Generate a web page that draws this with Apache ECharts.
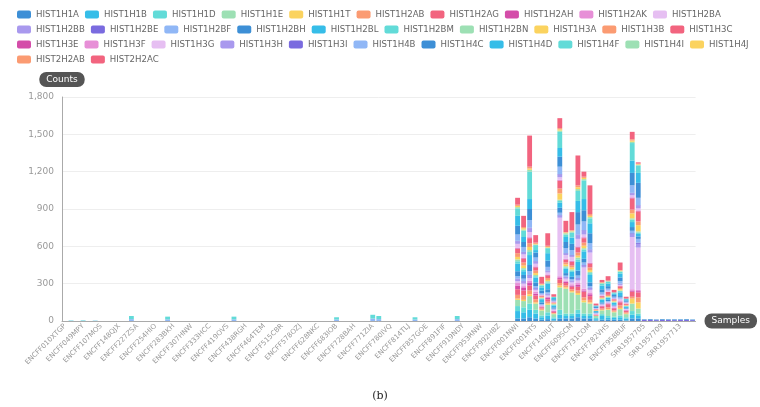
<!DOCTYPE html>
<html>
<head>
<meta charset="utf-8">
<title>Histone counts per sample</title>
<script src="https://cdn.jsdelivr.net/npm/echarts@6/dist/echarts.min.js"></script>
<style>
	html, body { margin: 0; padding: 0; background: #fff; }
	#main { width: 760px; height: 407px; }
</style>
</head>
<body>
<div id="main"></div>
<script>
	// x轴上能看到的样本名（每3个样本显示一个）
	var tickLabels = ['ENCFF010XTGP', 'ENCFF049MPY', 'ENCFF107MOS', 'ENCFF148QJX', 'ENCFF227ZSA', 'ENCFF254HIO',
		'ENCFF283BKH', 'ENCFF307HNW', 'ENCFF333HCC', 'ENCFF419OVS', 'ENCFF438RGH', 'ENCFF464TEM', 'ENCFF515CBR',
		'ENCFF578OZJ', 'ENCFF628NKC', 'ENCFF683IOB', 'ENCFF728BAH', 'ENCFF771ZIA', 'ENCFF780IVQ', 'ENCFF814TLJ',
		'ENCFF857GOE', 'ENCFF891FIF', 'ENCFF919NDY', 'ENCFF953RNW', 'ENCFF992HBZ', 'ENCFF001NWI', 'ENCFF001RTS',
		'ENCFF140IUT', 'ENCFF609SCM', 'ENCFF731COM', 'ENCFF782VHS', 'ENCFF958BUF', 'SRR1957705', 'SRR1957709',
		'SRR1957713'];

	// 组蛋白基因（图例顺序 = 堆叠顺序）
	var seriesNames = ['HIST1H1A', 'HIST1H1B', 'HIST1H1D', 'HIST1H1E', 'HIST1H1T', 'HIST1H2AB', 'HIST1H2AG',
		'HIST1H2AH', 'HIST1H2AK', 'HIST1H2BA', 'HIST1H2BB', 'HIST1H2BE', 'HIST1H2BF', 'HIST1H2BH', 'HIST1H2BL',
		'HIST1H2BM', 'HIST1H2BN', 'HIST1H3A', 'HIST1H3B', 'HIST1H3C', 'HIST1H3E', 'HIST1H3F', 'HIST1H3G',
		'HIST1H3H', 'HIST1H3I', 'HIST1H4B', 'HIST1H4C', 'HIST1H4D', 'HIST1H4F', 'HIST1H4I', 'HIST1H4J',
		'HIST2H2AB', 'HIST2H2AC'];

	// 第二组 ENCODE 样本（第75个样本开始，共21个），每行33个基因的计数
	var groupBStart = 75;
	var groupBCounts = [
		[20, 60, 40, 50, 10, 30, 45, 30, 20, 15, 15, 5, 20, 40, 60, 20, 15, 20, 30, 35, 5, 5, 30, 20, 5, 50, 70, 80, 60, 10, 10, 10, 55],
		[20, 50, 40, 50, 10, 35, 40, 20, 15, 20, 15, 5, 20, 30, 30, 15, 10, 20, 25, 30, 5, 5, 25, 15, 5, 40, 40, 40, 50, 10, 10, 10, 90],
		[30, 60, 50, 60, 15, 30, 40, 20, 20, 20, 20, 5, 30, 50, 80, 25, 15, 25, 30, 40, 5, 5, 40, 30, 5, 60, 90, 80, 220, 15, 10, 15, 250],
		[20, 40, 30, 50, 10, 25, 30, 15, 15, 15, 10, 5, 15, 30, 40, 10, 10, 15, 20, 25, 5, 5, 20, 15, 5, 30, 40, 20, 40, 5, 5, 10, 60],
		[10, 20, 15, 40, 5, 10, 10, 5, 5, 5, 5, 0, 5, 15, 25, 5, 5, 5, 5, 10, 0, 0, 5, 5, 0, 10, 20, 25, 15, 5, 5, 5, 55],
		[15, 30, 25, 60, 10, 15, 20, 10, 10, 10, 10, 5, 10, 25, 45, 10, 10, 10, 15, 20, 5, 5, 15, 10, 5, 30, 50, 60, 40, 5, 5, 10, 100],
		[5, 15, 10, 25, 5, 5, 10, 5, 5, 5, 5, 0, 5, 10, 15, 5, 5, 5, 5, 5, 0, 0, 5, 5, 0, 5, 10, 10, 10, 0, 0, 0, 20],
		[20, 30, 40, 180, 15, 20, 30, 10, 15, 470, 15, 5, 20, 40, 40, 15, 10, 50, 40, 60, 5, 5, 20, 20, 5, 60, 80, 70, 130, 10, 10, 10, 80],
		[20, 20, 20, 200, 10, 15, 20, 10, 10, 15, 10, 5, 10, 20, 35, 10, 10, 15, 15, 20, 5, 5, 30, 10, 5, 40, 50, 40, 20, 10, 5, 5, 90],
		[20, 20, 20, 170, 10, 15, 20, 10, 10, 15, 10, 5, 10, 20, 40, 10, 10, 15, 15, 30, 5, 5, 30, 10, 5, 40, 50, 50, 40, 10, 5, 5, 145],
		[30, 30, 30, 120, 15, 20, 30, 15, 15, 20, 15, 5, 20, 40, 70, 20, 15, 15, 25, 40, 5, 5, 60, 30, 5, 80, 100, 90, 80, 15, 15, 15, 240],
		[20, 20, 20, 90, 15, 25, 45, 10, 15, 170, 15, 5, 20, 30, 60, 15, 10, 20, 25, 35, 5, 5, 20, 30, 5, 70, 90, 90, 150, 10, 10, 10, 40],
		[20, 20, 20, 80, 10, 20, 30, 15, 15, 20, 10, 5, 15, 30, 60, 15, 10, 15, 20, 30, 5, 5, 80, 20, 5, 50, 80, 80, 40, 10, 10, 15, 230],
		[5, 10, 10, 15, 0, 5, 5, 0, 5, 5, 0, 0, 5, 5, 10, 0, 0, 5, 5, 5, 0, 0, 5, 0, 0, 5, 10, 5, 5, 0, 0, 0, 15],
		[10, 30, 15, 30, 5, 10, 15, 5, 5, 5, 5, 0, 5, 10, 20, 5, 5, 5, 5, 10, 0, 0, 10, 5, 0, 15, 25, 30, 15, 5, 5, 0, 20],
		[10, 15, 15, 50, 5, 15, 25, 5, 5, 5, 5, 0, 5, 10, 15, 5, 5, 5, 10, 25, 0, 0, 10, 5, 0, 10, 20, 20, 15, 5, 0, 5, 35],
		[10, 15, 10, 35, 5, 10, 15, 5, 5, 5, 5, 0, 5, 5, 15, 5, 5, 5, 5, 10, 0, 0, 5, 5, 0, 10, 15, 10, 10, 0, 0, 0, 20],
		[10, 20, 15, 50, 10, 20, 25, 5, 10, 10, 5, 0, 10, 10, 30, 10, 5, 10, 10, 15, 0, 0, 10, 10, 0, 20, 30, 30, 15, 5, 5, 5, 60],
		[5, 15, 10, 25, 5, 10, 10, 5, 5, 5, 0, 0, 5, 5, 10, 5, 0, 5, 5, 10, 0, 0, 5, 5, 0, 5, 10, 10, 5, 0, 0, 0, 15],
		[20, 30, 30, 60, 40, 15, 40, 10, 10, 420, 20, 10, 20, 30, 40, 20, 10, 40, 30, 90, 5, 5, 15, 15, 5, 60, 100, 100, 140, 10, 10, 10, 60],
		[20, 20, 20, 40, 50, 40, 40, 10, 10, 340, 30, 10, 30, 20, 20, 10, 10, 50, 30, 80, 5, 5, 15, 20, 5, 60, 120, 80, 60, 5, 5, 5, 10]
	];

	// 第一组样本里零星的小柱子
	var earlyIdx = [1, 3, 5, 11, 17, 28, 45, 51, 52, 58, 65];
	var early4F = [3, 4, 2, 25, 22, 22, 18, 30, 25, 18, 25];
	var early4B = [2, 2, 2, 15, 13, 13, 12, 20, 15, 12, 15];

	// SRR 样本（最后9个）
	var srrStart = 96;
	var srr3I = [8, 8, 7, 8, 8, 7, 8, 8, 7];
	var srr4C = [5, 6, 5, 6, 5, 6, 5, 6, 5];

	var palette = ['#3d8fd6', '#36bde8', '#62dbd8', '#9de0b4', '#fbd35f', '#fb9b72', '#f2647f',
		'#d44da9', '#e78fd7', '#e6bff2', '#a999ee', '#7a6bdf', '#90b7f6'];

	// 所有样本名
	var samples = [];
	for(var k = 0; k < tickLabels.length; k++) {
		samples.push(tickLabels[k]);
		samples.push(tickLabels[k] + '_1');
		samples.push(tickLabels[k] + '_2');
	}

	var seriesList = [];
	for(var s = 0; s < seriesNames.length; s++) {
		var values = [];
		for(var i = 0; i < samples.length; i++) {
			values.push(0);
		}
		for(var j = 0; j < groupBCounts.length; j++) {
			values[groupBStart + j] = groupBCounts[j][s];
		}
		if(seriesNames[s] == 'HIST1H4F') {
			for(var e = 0; e < earlyIdx.length; e++) values[earlyIdx[e]] = early4F[e];
		} else if(seriesNames[s] == 'HIST1H4B') {
			for(var e = 0; e < earlyIdx.length; e++) values[earlyIdx[e]] = early4B[e];
		} else if(seriesNames[s] == 'HIST1H3I') {
			for(var r = 0; r < srr3I.length; r++) values[srrStart + r] = srr3I[r];
		} else if(seriesNames[s] == 'HIST1H4C') {
			for(var r = 0; r < srr4C.length; r++) values[srrStart + r] = srr4C[r];
		}
		seriesList.push({
			name: seriesNames[s],
			type: 'bar',
			stack: 'counts',
			barWidth: '80%',
			data: values
		});
	}

	var pill = {
		color: '#fff',
		backgroundColor: '#555',
		borderRadius: 7,
		padding: [3, 7],
		fontSize: 9,
		fontFamily: 'DejaVu Sans'
	};

	var chart = echarts.init(document.getElementById('main'));
	chart.setOption({
		animation: false,
		color: palette,
		title: {
			text: '(b)',
			left: 'center',
			top: 386,
			textStyle: {
				fontFamily: 'DejaVu Serif',
				fontSize: 11,
				fontWeight: 'normal',
				color: '#222'
			}
		},
		legend: {
			left: 12,
			right: 0,
			top: 5,
			itemWidth: 14,
			itemHeight: 8,
			itemGap: 6,
			icon: 'roundRect',
			textStyle: {
				fontSize: 8.6,
				lineHeight: 9,
				fontFamily: 'DejaVu Sans',
				color: '#666'
			},
			data: seriesNames
		},
		grid: {
			left: 62,
			right: 63,
			top: 97,
			bottom: 86
		},
		xAxis: {
			type: 'category',
			data: samples,
			name: 'Samples',
			nameLocation: 'end',
			nameGap: 9,
			nameTextStyle: pill,
			axisLine: { lineStyle: { color: '#aaa' } },
			axisTick: { interval: 2, alignWithLabel: true, length: 3, lineStyle: { color: '#aaa' } },
			axisLabel: {
				interval: 2,
				rotate: 45,
				fontSize: 7,
				fontFamily: 'DejaVu Sans',
				color: '#999',
				margin: 4
			}
		},
		yAxis: {
			type: 'value',
			min: 0,
			max: 1800,
			interval: 300,
			name: 'Counts',
			nameLocation: 'end',
			nameGap: 10,
			nameTextStyle: pill,
			axisLine: { show: true, lineStyle: { color: '#aaa' } },
			axisTick: { show: false },
			axisLabel: {
				fontSize: 9,
				fontFamily: 'DejaVu Sans',
				color: '#999',
				margin: 8
			},
			splitLine: { lineStyle: { color: '#eee' } }
		},
		series: seriesList
	});
</script>
</body>
</html>
